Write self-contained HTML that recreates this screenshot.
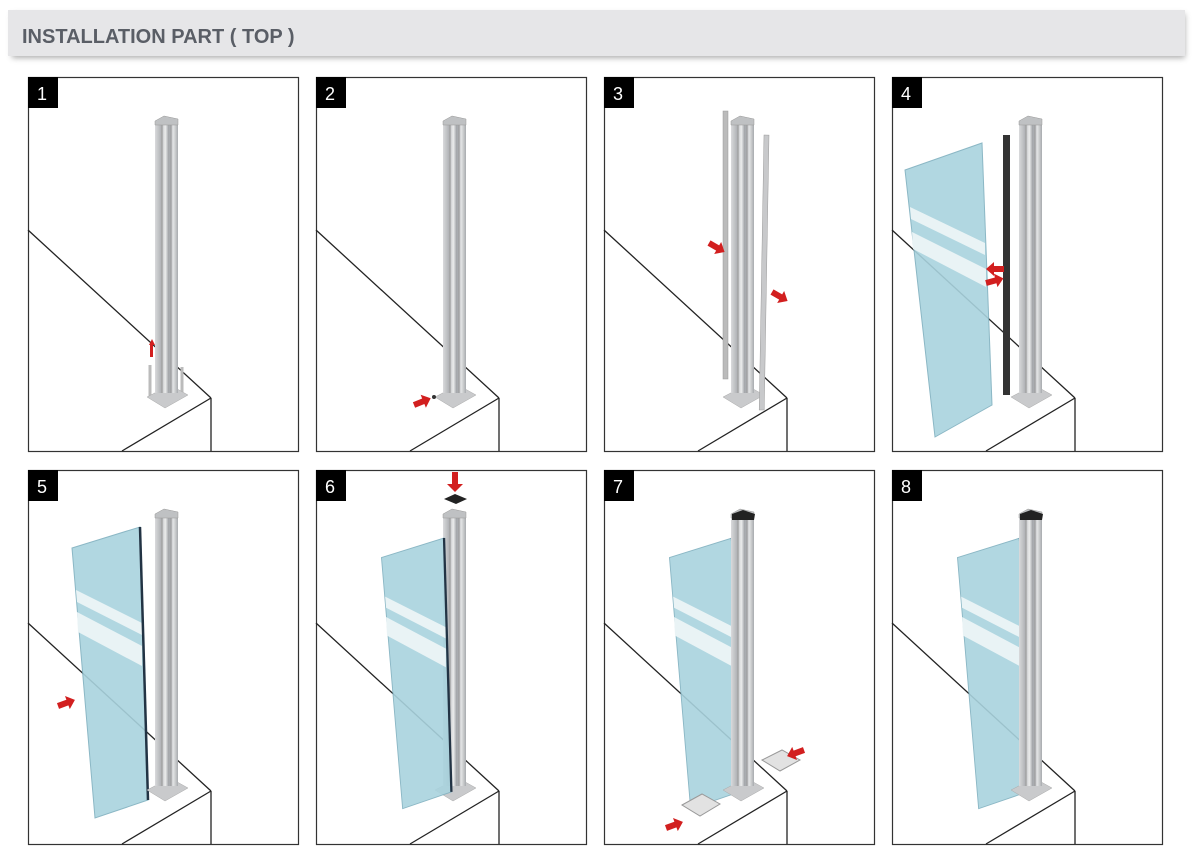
<!DOCTYPE html>
<html><head><meta charset="utf-8"><style>
html,body{margin:0;padding:0;background:#fff;}
svg{display:block}
</style></head><body>
<svg width="1204" height="854" viewBox="0 0 1204 854" xmlns="http://www.w3.org/2000/svg" font-family="Liberation Sans, sans-serif">
<defs>
<linearGradient id="pg" x1="0" x2="1" y1="0" y2="0">
<stop offset="0" stop-color="#d9dadc"/><stop offset="0.25" stop-color="#b3b5b8"/><stop offset="0.45" stop-color="#eceded"/><stop offset="0.6" stop-color="#9fa2a6"/><stop offset="0.8" stop-color="#e2e3e4"/><stop offset="1" stop-color="#a8abae"/>
</linearGradient>
<filter id="sh" x="-5%" y="-50%" width="110%" height="200%"><feGaussianBlur stdDeviation="3"/></filter>
<g id="scene">
<rect x="0.5" y="0.5" width="270" height="374" fill="#fff" stroke="#333" stroke-width="1.2"/>
<line x1="0" y1="153" x2="183" y2="321" stroke="#222" stroke-width="1.3"/>
<line x1="183" y1="321" x2="183" y2="374" stroke="#222" stroke-width="1.3"/>
<line x1="183" y1="321" x2="94" y2="374" stroke="#222" stroke-width="1.3"/>
</g>
<g id="post">
<polygon points="119,320 142,308 160,318 137,331" fill="#c9cacc" stroke="#aaa" stroke-width="0.5"/>
<rect x="127" y="44" width="23" height="272" fill="url(#pg)"/>
<line x1="134" y1="44" x2="134" y2="316" stroke="#888" stroke-width="0.8"/>
<line x1="143" y1="44" x2="143" y2="316" stroke="#888" stroke-width="0.8"/>
<polygon points="127,44 136,39 150,42 150,48 127,48" fill="#bfc1c3" stroke="#999" stroke-width="0.5"/>
</g>
<g id="glass">
<polygon points="44,78 112,57 120,330 67,348" fill="#a9d3de" stroke="#7fb0bf" stroke-width="1" opacity="0.9"/>
<polygon points="48,120 114,153 114,165 49,132" fill="#e9f3f5"/>
<polygon points="49,142 114,176 114,196 50,162" fill="#e9f3f5"/>
<line x1="112" y1="57" x2="120" y2="330" stroke="#234" stroke-width="2.5"/>
</g>
<g id="arrow"><polygon points="0,-3 10,-3 10,-7 18,0 10,7 10,3 0,3" fill="#d21f1f"/></g>
</defs>

<rect x="12" y="14" width="1173" height="44" fill="#999" filter="url(#sh)" opacity="0.8"/>
<rect x="8" y="10" width="1177" height="46" fill="#e6e6e8"/>
<text x="22" y="43" font-size="20" font-weight="bold" fill="#5a5e66">INSTALLATION PART ( TOP )</text>

<!-- 1 -->
<g transform="translate(28,77)">
<use href="#scene"/>
<line x1="122" y1="288" x2="122" y2="320" stroke="#bbb" stroke-width="3"/>
<line x1="154" y1="290" x2="154" y2="316" stroke="#bbb" stroke-width="3"/>
<use href="#post"/>
<polygon points="121,268 124,262 127,268 125,268 125,280 122,280 122,268" fill="#d21f1f"/>
</g>
<!-- 2 -->
<g transform="translate(316,77)">
<use href="#scene"/>
<use href="#post"/>
<use href="#arrow" transform="translate(98,328) rotate(-22)"/>
<circle cx="118" cy="320" r="2" fill="#333"/>
</g>
<!-- 3 -->
<g transform="translate(604,77)">
<use href="#scene"/>
<rect x="119" y="34" width="5" height="268" fill="#bbb" stroke="#999" stroke-width="0.5"/>
<use href="#post"/>
<rect x="160" y="58" width="5" height="275" fill="#c8c9cb" stroke="#999" stroke-width="0.5" transform="rotate(1 160 58)"/>
<use href="#arrow" transform="translate(105,166) rotate(30)"/>
<use href="#arrow" transform="translate(168,215) rotate(30)"/>
</g>
<!-- 4 -->
<g transform="translate(892,77)">
<use href="#scene"/>
<polygon points="13,93 90,66 100,328 43,360" fill="#a9d3de" stroke="#7fb0bf" opacity="0.9"/>
<polygon points="18,130 93,166 93,178 19,142" fill="#e9f3f5"/>
<polygon points="20,155 94,192 94,210 21,172" fill="#e9f3f5"/>
<rect x="111" y="58" width="7" height="260" fill="#333"/>
<use href="#post"/>
<use href="#arrow" transform="translate(112,192) rotate(180)"/>
<use href="#arrow" transform="translate(94,206) rotate(-15)"/>
</g>
<!-- 5 -->
<g transform="translate(28,470)">
<use href="#scene"/>
<use href="#glass"/>
<use href="#post"/>
<use href="#arrow" transform="translate(30,236) rotate(-20)"/>
</g>
<!-- 6 -->
<g transform="translate(316,470)">
<use href="#scene"/>
<use href="#post"/>
<use href="#glass" transform="translate(25,15) scale(0.92,0.93)"/>
<polygon points="128,29 139,24 151,29 140,34" fill="#222"/>
<rect x="136" y="2" width="6" height="14" fill="#d21f1f"/>
<polygon points="131,14 147,14 139,22" fill="#d21f1f"/>
</g>
<!-- 7 -->
<g transform="translate(604,470)">
<use href="#scene"/>
<use href="#glass" transform="translate(25,15) scale(0.92,0.93)"/>
<use href="#post"/>
<polygon points="128,44 139,40 151,44 150,50 128,50" fill="#222"/>
<polygon points="78,335 98,324 116,334 96,346" fill="#e2e2e2" stroke="#999"/>
<polygon points="158,290 178,280 196,290 176,301" fill="#e2e2e2" stroke="#999"/>
<use href="#arrow" transform="translate(62,358) rotate(-20)"/>
<use href="#arrow" transform="translate(200,280) rotate(160)"/>
</g>
<!-- 8 -->
<g transform="translate(892,470)">
<use href="#scene"/>
<use href="#glass" transform="translate(25,15) scale(0.92,0.93)"/>
<use href="#post"/>
<polygon points="128,44 139,40 151,44 150,50 128,50" fill="#222"/>
</g>

<g font-size="18" fill="#fff">
<rect x="28" y="77" width="30" height="31" fill="#000"/><text x="37" y="100">1</text>
<rect x="316" y="77" width="30" height="31" fill="#000"/><text x="325" y="100">2</text>
<rect x="604" y="77" width="30" height="31" fill="#000"/><text x="613" y="100">3</text>
<rect x="892" y="77" width="30" height="31" fill="#000"/><text x="901" y="100">4</text>
<rect x="28" y="470" width="30" height="31" fill="#000"/><text x="37" y="493">5</text>
<rect x="316" y="470" width="30" height="31" fill="#000"/><text x="325" y="493">6</text>
<rect x="604" y="470" width="30" height="31" fill="#000"/><text x="613" y="493">7</text>
<rect x="892" y="470" width="30" height="31" fill="#000"/><text x="901" y="493">8</text>
</g>
</svg>
</body></html>
